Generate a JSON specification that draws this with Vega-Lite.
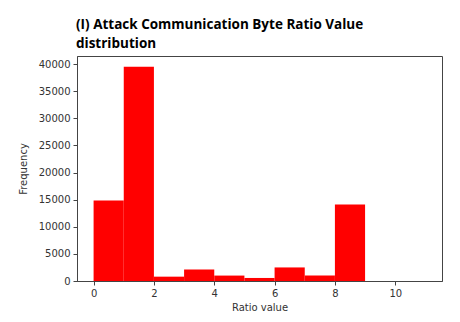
{
  "$schema": "https://vega.github.io/schema/vega-lite/v6.json",
  "autosize": {"type": "none"},
  "padding": {"left": 77, "top": 56, "right": 18, "bottom": 41},
  "width": 365,
  "height": 225,
  "title": {
    "text": ["(I) Attack Communication Byte Ratio Value", "distribution"],
    "anchor": "start",
    "frame": "group",
    "font": "Open Sans",
    "fontSize": 13.5,
    "fontWeight": "bold",
    "color": "#000000",
    "lineHeight": 19,
    "offset": 6,
    "dx": -1
  },
  "data": {
    "values": [
      {"bin_start": 0, "bin_end": 1, "count": 14850},
      {"bin_start": 1, "bin_end": 2, "count": 39500},
      {"bin_start": 2, "bin_end": 3, "count": 800},
      {"bin_start": 3, "bin_end": 4, "count": 2100},
      {"bin_start": 4, "bin_end": 5, "count": 1000},
      {"bin_start": 5, "bin_end": 6, "count": 560},
      {"bin_start": 6, "bin_end": 7, "count": 2500},
      {"bin_start": 7, "bin_end": 8, "count": 1000},
      {"bin_start": 8, "bin_end": 9, "count": 14100},
      {"bin_start": 9, "bin_end": 10, "count": 0},
      {"bin_start": 10, "bin_end": 11, "count": 0}
    ]
  },
  "mark": {"type": "rect", "color": "#ff0000", "strokeWidth": 0},
  "encoding": {
    "x": {
      "field": "bin_start",
      "type": "quantitative",
      "scale": {"domain": [-0.55, 11.55], "nice": false, "zero": false},
      "axis": {"values": [0, 2, 4, 6, 8, 10], "title": "Ratio value", "grid": false}
    },
    "x2": {"field": "bin_end"},
    "y": {
      "field": "count",
      "type": "quantitative",
      "scale": {"domain": [0, 41475], "nice": false},
      "axis": {"values": [0, 5000, 10000, 15000, 20000, 25000, 30000, 35000, 40000], "format": "d", "title": "Frequency", "grid": false}
    },
    "y2": {"datum": 0}
  },
  "config": {
    "view": {"stroke": "#444444", "strokeWidth": 1},
    "axis": {
      "domainColor": "#444444",
      "tickColor": "#444444",
      "tickSize": 4,
      "labelFont": "DejaVu Sans",
      "labelFontSize": 10,
      "labelColor": "#333333",
      "labelPadding": 3,
      "titleFont": "DejaVu Sans",
      "titleFontSize": 10,
      "titleFontWeight": "normal",
      "titleColor": "#333333"
    },
    "axisX": {"titlePadding": 4},
    "axisY": {"titlePadding": 10}
  }
}
